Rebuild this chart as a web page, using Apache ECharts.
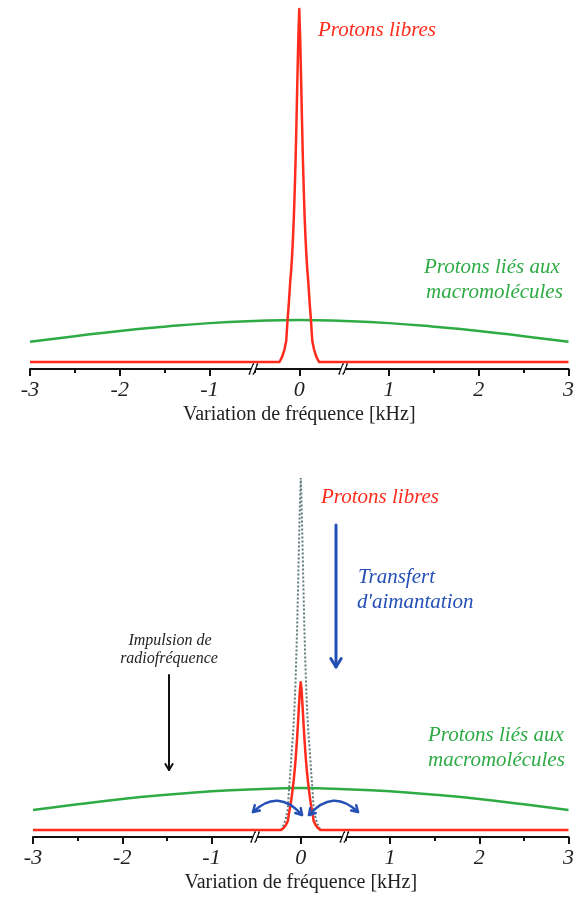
<!DOCTYPE html>
<html><head><meta charset="utf-8">
<script src="https://cdn.jsdelivr.net/npm/echarts@6/dist/echarts.min.js"></script>
<style>html,body{margin:0;padding:0;background:#fff}#c{width:577px;height:900px}</style>
</head><body><div id="c"></div>
<script>
// Frequency offsets (kHz) for the free-proton peak
const peakX = [-3, -0.22, -0.19, -0.165, -0.145, -0.13, -0.115, -0.10, -0.09, -0.08, -0.07, -0.06, -0.05, -0.04, -0.03, -0.02, -0.01, 0,
  0.01, 0.02, 0.03, 0.04, 0.05, 0.06, 0.07, 0.08, 0.09, 0.10, 0.115, 0.13, 0.145, 0.165, 0.19, 0.22, 3];
// Free protons, top panel (normalised intensity)
const freeTop = [0, 0, 0.015, 0.035, 0.06, 0.12, 0.17, 0.23, 0.26, 0.30, 0.35, 0.41, 0.49, 0.58, 0.69, 0.81, 0.92, 1,
  0.92, 0.81, 0.69, 0.58, 0.49, 0.41, 0.35, 0.30, 0.26, 0.23, 0.17, 0.12, 0.06, 0.035, 0.015, 0, 0];
// Free protons after magnetisation transfer, bottom panel
const freeBottom = [0, 0, 0.006, 0.015, 0.025, 0.05, 0.071, 0.097, 0.118, 0.139, 0.164, 0.193, 0.227, 0.265, 0.307, 0.353, 0.395, 0.42,
  0.395, 0.353, 0.307, 0.265, 0.227, 0.193, 0.164, 0.139, 0.118, 0.097, 0.071, 0.05, 0.025, 0.015, 0.006, 0, 0];
// Bound (macromolecular) protons
const boundX = [-3, -2.5, -2, -1.5, -1, -0.5, 0, 0.5, 1, 1.5, 2, 2.5, 3];
const boundVals = [0.057, 0.073, 0.088, 0.100, 0.110, 0.116, 0.119, 0.116, 0.110, 0.100, 0.088, 0.073, 0.057];
// Axis
const xMin = -3, xMax = 3, xStep = 1;
const breakAt = [-0.5, 0.5];
const axisTitle = 'Variation de fréquence [kHz]';

const RED = '#ff2b1c', GREEN = '#2eab45', BLUE = '#2450b5', SERIF = '"Liberation Serif", "DejaVu Serif", serif';
const pairs = (xs, ys) => xs.map((x, i) => [x, ys[i]]);

function xAxisCfg(g) {
  return {
    type: 'value', gridIndex: g, min: xMin, max: xMax, interval: xStep,
    axisLine: { onZero: false, lineStyle: { color: '#111', width: 2 } },
    axisTick: { length: 7, lineStyle: { width: 2, color: '#111' } },
    minorTick: { show: true, splitNumber: 2, length: 4, lineStyle: { width: 2, color: '#111' } },
    splitLine: { show: false }, minorSplitLine: { show: false },
    axisLabel: { fontFamily: SERIF, fontStyle: 'italic', fontSize: 22, color: '#222', margin: 10 },
    name: axisTitle, nameLocation: 'middle', nameGap: 36,
    nameTextStyle: { fontFamily: SERIF, fontSize: 20, color: '#222' }
  };
}
function yAxisCfg(g) { return { type: 'value', gridIndex: g, min: -0.02, max: 1.02, show: false }; }
const lineBase = { type: 'line', symbol: 'none', silent: true };

const chart = echarts.init(document.getElementById('c'), null, { renderer: 'canvas' });
chart.setOption({
  animation: false,
  grid: [
    { left: 30, width: 540, top: 2, height: 367 },
    { left: 33, width: 546, top: 471, height: 366 }
  ],
  xAxis: [xAxisCfg(0), xAxisCfg(1)],
  yAxis: [yAxisCfg(0), yAxisCfg(1)],
  series: [
    Object.assign({}, lineBase, { xAxisIndex: 0, yAxisIndex: 0, smooth: true, data: pairs(boundX, boundVals), lineStyle: { color: GREEN, width: 2.5 }, z: 2 }),
    Object.assign({}, lineBase, { xAxisIndex: 0, yAxisIndex: 0, smooth: false, data: pairs(peakX, freeTop), lineStyle: { color: RED, width: 2.5, join: 'round' }, z: 3 }),
    Object.assign({}, lineBase, { xAxisIndex: 1, yAxisIndex: 1, smooth: true, data: pairs(boundX, boundVals), lineStyle: { color: GREEN, width: 2.5 }, z: 2 }),
    Object.assign({}, lineBase, { xAxisIndex: 1, yAxisIndex: 1, smooth: false, data: pairs(peakX, freeTop), lineStyle: { color: '#5f7a7a', width: 2, type: [2, 2] }, z: 1 }),
    Object.assign({}, lineBase, { xAxisIndex: 1, yAxisIndex: 1, smooth: false, data: pairs(peakX, freeBottom), lineStyle: { color: RED, width: 2.5, join: 'round' }, z: 3 })
  ]
});

// ---- annotations ----
const g = [];
function txt(t, x, y, size, color, align) {
  g.push({ type: 'text', x: x, y: y, z: 10, style: { text: t, fill: color, font: 'italic ' + size + 'px ' + SERIF, textAlign: align || 'left', textVerticalAlign: 'middle' } });
}
function seg(x1, y1, x2, y2, color, w) {
  g.push({ type: 'line', z: 10, shape: { x1: x1, y1: y1, x2: x2, y2: y2 }, style: { stroke: color, lineWidth: w, lineCap: 'round' } });
}
function head(tx, ty, fx, fy, len, color, w) {
  const a = Math.atan2(ty - fy, tx - fx);
  [0.55, -0.55].forEach(d => seg(tx, ty, tx - len * Math.cos(a + d), ty - len * Math.sin(a + d), color, w));
}
function curve(x1, y1, cx, cy, x2, y2, color, w) {
  g.push({ type: 'bezierCurve', z: 10, shape: { x1: x1, y1: y1, x2: x2, y2: y2, cpx1: cx, cpy1: cy }, style: { stroke: color, lineWidth: w, fill: null } });
  head(x1, y1, cx, cy, 7, color, w);
  head(x2, y2, cx, cy, 7, color, w);
}
// axis breaks
[0, 1].forEach(gi => {
  breakAt.forEach(b => {
    const p = chart.convertToPixel({ xAxisIndex: gi, yAxisIndex: gi }, [b, -0.02]);
    g.push({ type: 'polygon', z: 11, shape: { points: [[p[0] - 4, p[1] + 4], [p[0] - 1, p[1] - 4], [p[0] + 2, p[1] - 4], [p[0] - 1, p[1] + 4]] }, style: { fill: '#fff' } });
    seg(p[0] - 5, p[1] + 5, p[0] - 1, p[1] - 5, '#111', 1.6);
    seg(p[0] - 1, p[1] + 5, p[0] + 3, p[1] - 5, '#111', 1.6);
  });
});
// top panel texts
txt('Protons libres', 318, 30, 21, RED);
txt('Protons liés aux', 424, 267, 21, GREEN);
txt('macromolécules', 426, 292, 21, GREEN);
// bottom panel
txt('Protons libres', 321, 497, 21, RED);
txt('Transfert', 358, 577, 21, BLUE);
txt("d'aimantation", 357, 602, 21, BLUE);
txt('Impulsion de', 170, 641, 16, '#222', 'center');
txt('radiofréquence', 169, 659, 16, '#222', 'center');
txt('Protons liés aux', 428, 735, 21, GREEN);
txt('macromolécules', 428, 760, 21, GREEN);
seg(336, 525, 336, 666, BLUE, 3);
head(336, 667, 336, 600, 10, BLUE, 3);
seg(169, 675, 169, 769, '#111', 2);
head(169, 770, 169, 700, 7, '#111', 2);
curve(253, 812, 278, 788, 302, 815, BLUE, 2.5);
curve(309, 815, 333, 788, 358, 812, BLUE, 2.5);

chart.setOption({ graphic: { elements: g } });
</script>
</body></html>
